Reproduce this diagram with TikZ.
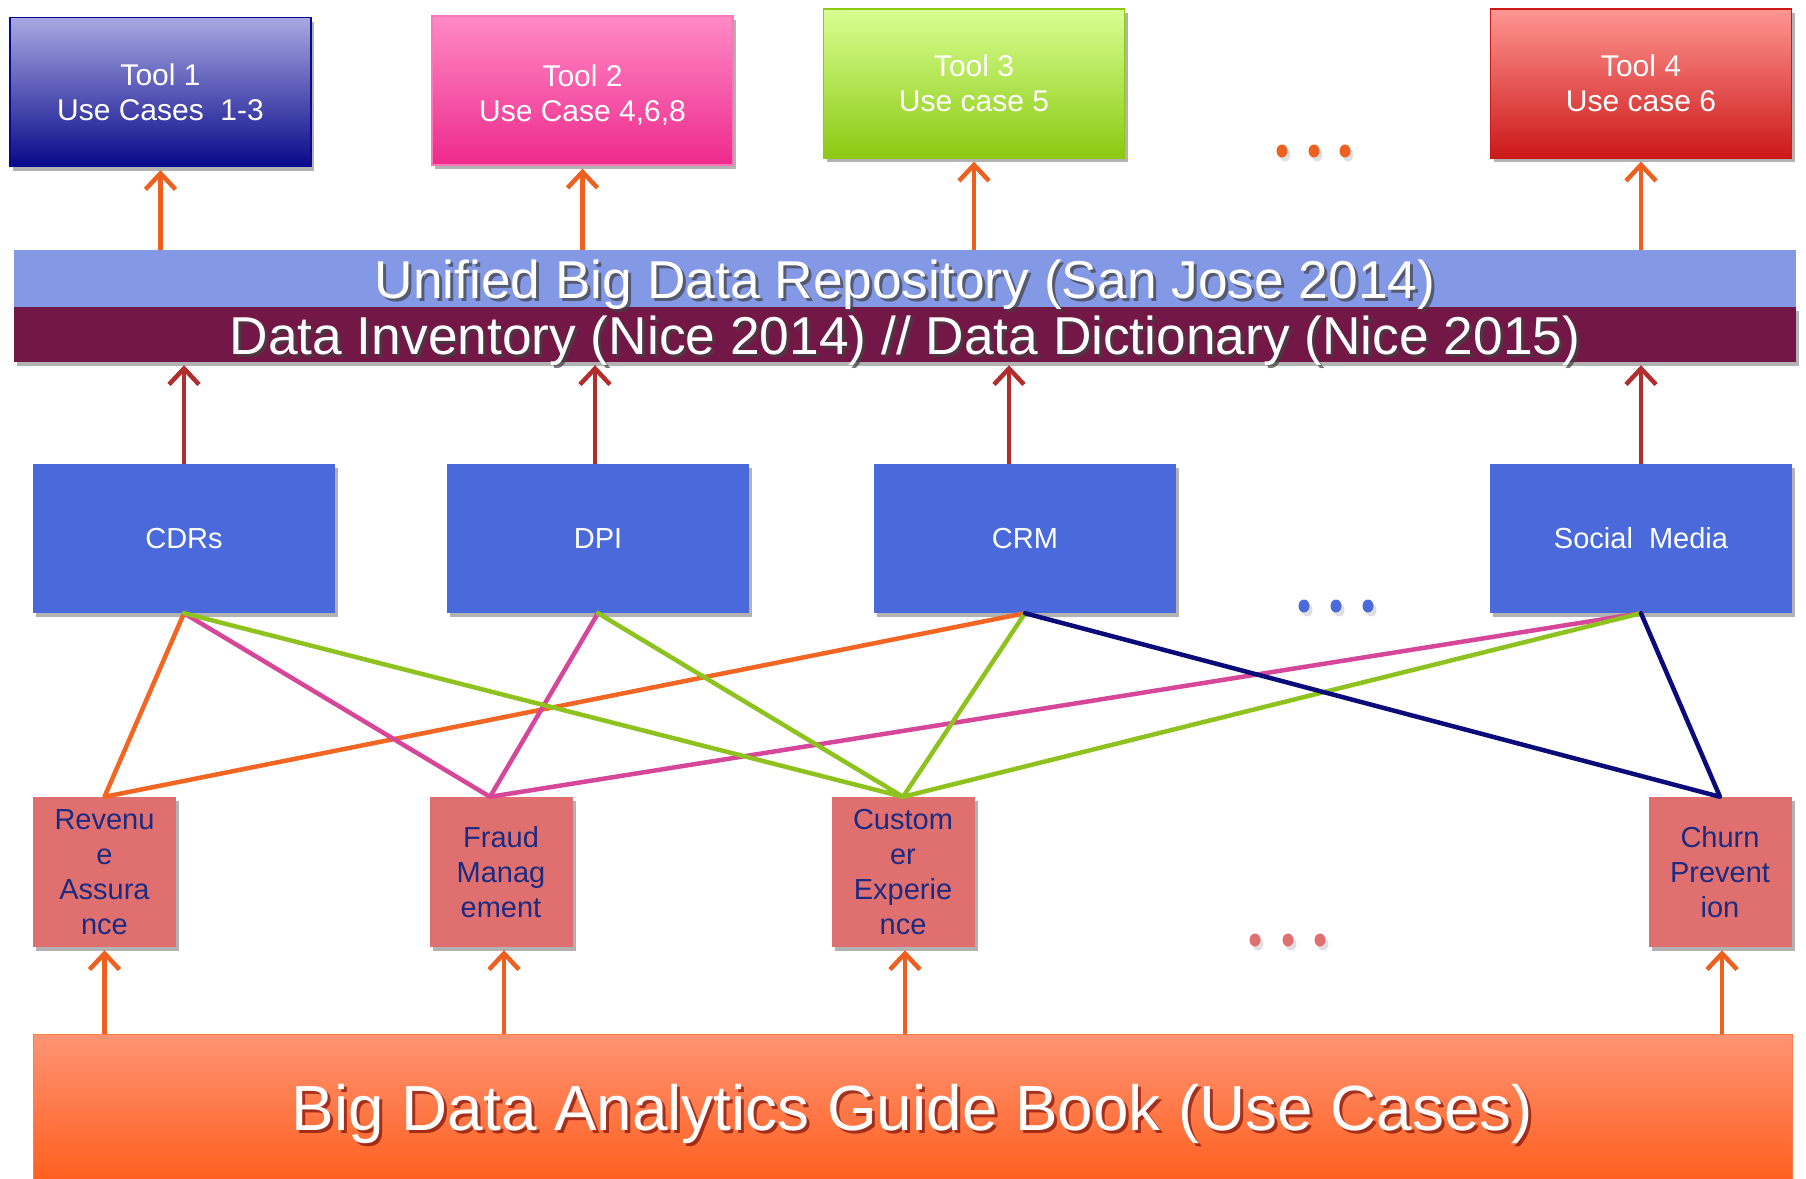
\documentclass[tikz,border=0pt]{standalone}
\usepackage{fontspec}
\setmainfont{Liberation Sans}
\usetikzlibrary{arrows.meta,shadows,calc,shapes.geometric}

\definecolor{toolAtop}{HTML}{A8A8E2}
\definecolor{toolAbot}{HTML}{08088A}
\definecolor{toolBtop}{HTML}{FF8AC6}
\definecolor{toolBbot}{HTML}{EE2A8C}
\definecolor{toolCtop}{HTML}{D8FF92}
\definecolor{toolCbot}{HTML}{8CC912}
\definecolor{toolDtop}{HTML}{FF9692}
\definecolor{toolDbot}{HTML}{CB1818}
\definecolor{repoBlue}{HTML}{8399E6}
\definecolor{invPlum}{HTML}{731846}
\definecolor{srcBlue}{HTML}{4A6ADC}
\definecolor{caseSalmon}{HTML}{E07070}
\definecolor{caseText}{HTML}{1C2A80}
\definecolor{guideTop}{HTML}{FF9474}
\definecolor{guideBot}{HTML}{FF5A16}
\definecolor{arrOrange}{HTML}{EE6020}
\definecolor{arrRed}{HTML}{B02E2E}
\definecolor{lnOrange}{HTML}{F26522}
\definecolor{lnPink}{HTML}{D6479A}
\definecolor{lnGreen}{HTML}{8DC21F}
\definecolor{lnNavy}{HTML}{0B0B7A}

\tikzset{
  softshadow/.style={drop shadow={shadow xshift=3pt,shadow yshift=-4pt,opacity=0.3,fill=black}},
  toolbox/.style={rectangle,draw=#1,line width=1.2pt,minimum width=301pt,minimum height=149pt,
    text=white,align=center,font=\fontsize{30}{35}\selectfont,softshadow},
  srcbox/.style={rectangle,fill=srcBlue,minimum width=302pt,minimum height=149pt,
    text=white,align=center,font=\fontsize{29}{35}\selectfont,softshadow},
  casebox/.style={rectangle,fill=caseSalmon,minimum width=143pt,minimum height=150pt,
    text=caseText,align=center,font=\fontsize{29}{35}\selectfont,inner sep=0pt,softshadow},
  bandtext/.style={text=white,font=\fontsize{53.3}{60}\selectfont},
  bandshadow/.style={text=black!75,font=\fontsize{53.3}{60}\selectfont,opacity=0.7},
  guidetext/.style={text=white,font=\fontsize{63.8}{74}\selectfont},
  guideshadow/.style={text=black!60!red,font=\fontsize{63.8}{74}\selectfont,opacity=0.6},
  uparrow/.style={line width=4.5pt,-{Straight Barb[length=16pt,width=30pt,line width=4.5pt]},shorten >=3pt},
  link/.style={line width=4.5pt,line cap=round,line join=round},
  dot/.style={ellipse,minimum width=11pt,minimum height=13pt,inner sep=0pt,
    drop shadow={shadow xshift=3pt,shadow yshift=-4pt,opacity=0.25}},
}

\begin{document}
\begin{tikzpicture}[x=1pt,y=-1pt]
\useasboundingbox[fill=white] (0,0) rectangle (1806,1178);

% tools at the top
\node[toolbox=toolAbot,top color=toolAtop,bottom color=toolAbot] (t1) at (160.5,92) {Tool 1\\Use Cases\ \ 1-3};
\node[toolbox=toolBtop!80!toolBbot,top color=toolBtop,bottom color=toolBbot] (t2) at (582.5,90.5) {\rule{0pt}{30pt}Tool 2\\Use Case 4,6,8};
\node[toolbox=toolCbot,top color=toolCtop,bottom color=toolCbot] (t3) at (974,83.5) {Tool 3\\Use case 5};
\node[toolbox=toolDbot,top color=toolDtop,bottom color=toolDbot] (t4) at (1641,83.5) {Tool 4\\Use case 6};

\node[dot,fill=arrOrange] (o1) at (1282,151) {};
\node[dot,fill=arrOrange] (o2) at (1314,151) {};
\node[dot,fill=arrOrange] (o3) at (1345,151) {};

% repository and inventory bands
\node[rectangle,fill=repoBlue,minimum width=1782pt,minimum height=57pt,inner sep=0pt] (repo) at (905,278.5) {};
\node[rectangle,fill=invPlum,minimum width=1782pt,minimum height=55pt,inner sep=0pt,softshadow] (inv) at (905,334.5) {};
\node[bandshadow] (repoS) at ([xshift=3pt,yshift=-9pt]repo.center) {Unified Big Data Repository (San Jose 2014)};
\node[bandtext] (repoT) at ([yshift=-6pt]repo.center) {Unified Big Data Repository (San Jose 2014)};
\node[bandshadow] (invS) at ([xshift=3pt,yshift=-9pt]inv.center) {Data Inventory (Nice 2014) // Data Dictionary (Nice 2015)};
\node[bandtext] (invT) at ([yshift=-6pt]inv.center) {Data Inventory (Nice 2014) // Data Dictionary (Nice 2015)};

% data sources
\node[srcbox] (cdr) at (184,538.5) {CDRs};
\node[srcbox] (dpi) at (598,538.5) {DPI};
\node[srcbox] (crm) at (1025,538.5) {CRM};
\node[srcbox] (soc) at (1641,538.5) {Social\ \ Media};

\node[dot,fill=srcBlue] (b1) at (1304,606) {};
\node[dot,fill=srcBlue] (b2) at (1336,606) {};
\node[dot,fill=srcBlue] (b3) at (1368,606) {};

% use cases
\node[casebox] (ra) at (104.5,872) {Revenu\\e\\Assura\\nce};
\node[casebox] (fm) at (501,872) {Fraud\\Manag\\ement};
\node[casebox] (cx) at (903,872) {Custom\\er\\Experie\\nce};
\node[casebox] (cp) at (1720,872) {Churn\\Prevent\\ion};

\node[dot,fill=caseSalmon] (p1) at (1255,940) {};
\node[dot,fill=caseSalmon] (p2) at (1288,940) {};
\node[dot,fill=caseSalmon] (p3) at (1320,940) {};

% guide book
\node[rectangle,draw=guideBot!80!white,line width=1pt,top color=guideTop,bottom color=guideBot,
  minimum width=1759pt,minimum height=160pt,inner sep=0pt] (guide) at (912.5,1114) {};
\node[guideshadow] (guideS) at ([xshift=3pt,yshift=-3pt]912.5,1114) {Big Data Analytics Guide Book (Use Cases)};
\node[guidetext] (guideT) at (912.5,1114) {Big Data Analytics Guide Book (Use Cases)};

% arrows from the repository to the tools
\foreach \t in {t1,t2,t3,t4}
  \draw[uparrow,arrOrange] (\t.south |- repo.north) -- (\t.south);

% arrows from the sources to the inventory
\draw[uparrow,arrRed] (cdr.north) -- (cdr.north |- inv.south);
\draw[uparrow,arrRed] ([xshift=-3pt]dpi.north) -- ([xshift=-3pt]dpi.north |- inv.south);
\draw[uparrow,arrRed] ([xshift=-16pt]crm.north) -- ([xshift=-16pt]crm.north |- inv.south);
\draw[uparrow,arrRed] (soc.north) -- (soc.north |- inv.south);

% arrows from the guide book to the use cases
\draw[uparrow,arrOrange] (ra.south |- guide.north) -- (ra.south);
\draw[uparrow,arrOrange] ([xshift=3pt]fm.south |- guide.north) -- ([xshift=3pt]fm.south);
\draw[uparrow,arrOrange] ([xshift=2pt]cx.south |- guide.north) -- ([xshift=2pt]cx.south);
\draw[uparrow,arrOrange] ([xshift=2pt]cp.south |- guide.north) -- ([xshift=2pt]cp.south);

% source to use case links
\coordinate (fmTop) at ([xshift=-11pt]fm.north);
\draw[link,lnOrange] (cdr.south) -- (ra.north) -- (crm.south);
\draw[link,lnPink] (cdr.south) -- (fmTop) -- (dpi.south);
\draw[link,lnPink] (fmTop) -- (soc.south);
\draw[link,lnGreen] (cdr.south) -- (cx.north) -- (dpi.south);
\draw[link,lnGreen] (crm.south) -- (cx.north) -- (soc.south);
\draw[link,lnNavy] (crm.south) -- (cp.north) -- (soc.south);
\end{tikzpicture}
\end{document}
